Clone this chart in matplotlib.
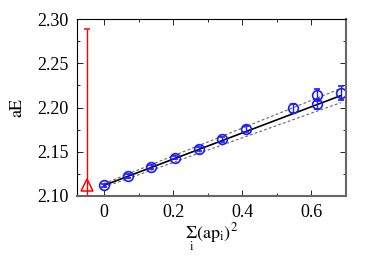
import matplotlib

matplotlib.use("Agg")
import matplotlib.pyplot as plt
import numpy as np

plt.rcParams["font.family"] = "Liberation Serif"
plt.rcParams["mathtext.fontset"] = "stix"

# lattice data: momentum squared vs energy
p2 = [0.0, 0.0685, 0.137, 0.2055, 0.274, 0.3425, 0.411, 0.548, 0.6165, 0.6165, 0.685]
energy = [2.112, 2.1226, 2.1328, 2.1433, 2.153, 2.164, 2.1757, 2.1994, 2.204, 2.214, 2.2167]
energy_err = [0.002, 0.002, 0.002, 0.002, 0.002, 0.0025, 0.003, 0.005, 0.006, 0.007, 0.008]

# extrapolated point
extra_x = [-0.05]
extra_y = [2.112]
extra_err = [0.177]

# linear fit and its band
fit_x = [0.0, 0.685]
fit_y = [2.112, 2.2135]
fit_lo = [2.110, 2.2055]
fit_hi = [2.114, 2.2215]

fig, ax = plt.subplots(figsize=(3.74, 2.62), dpi=100)
fig.subplots_adjust(left=0.206, right=0.925, top=0.927, bottom=0.252)

ax.errorbar(extra_x, extra_y, yerr=extra_err, fmt="^", color="red", mfc="none",
            ms=8, mew=1.1, elinewidth=1.0, capsize=2)
ax.plot(fit_x, fit_lo, "--", color="#666666", lw=0.8, dashes=(2.5, 2))
ax.plot(fit_x, fit_hi, "--", color="#666666", lw=0.8, dashes=(2.5, 2))
ax.plot(fit_x, fit_y, "-", color="black", lw=1.2)
ax.errorbar(p2, energy, yerr=energy_err, fmt="o", color="#1a1aff", mfc="none",
            ms=7, mew=1.2, elinewidth=1.0, capsize=2)

ax.set_xlim(-0.078, 0.70)
ax.set_ylim(2.10, 2.30)
ax.set_xticks([0, 0.2, 0.4, 0.6])
ax.set_xticklabels(["0", "0.2", "0.4", "0.6"])
ax.set_xticks(np.arange(0, 0.7, 0.1), minor=True)
ax.set_yticks([2.10, 2.15, 2.20, 2.25, 2.30])
ax.set_yticklabels(["2.10", "2.15", "2.20", "2.25", "2.30"])
ax.set_yticks(np.arange(2.10, 2.301, 0.025), minor=True)
ax.tick_params(which="both", direction="in", top=True, right=True, labelsize=13, pad=6)
ax.tick_params(which="major", length=4, width=0.6)
ax.tick_params(which="minor", length=2, width=0.6)
for s in ["right", "bottom"]:
    ax.spines[s].set_color("#666666")
    ax.spines[s].set_linewidth(1.5)

ax.set_ylabel(r"$\mathrm{aE}$", fontsize=13, labelpad=8)
ax.set_xlabel(r"$\underset{\mathrm{i}}{\Sigma}(\mathrm{ap_i})^2$", fontsize=13, labelpad=0)

fig.savefig("out.png", dpi=100)
